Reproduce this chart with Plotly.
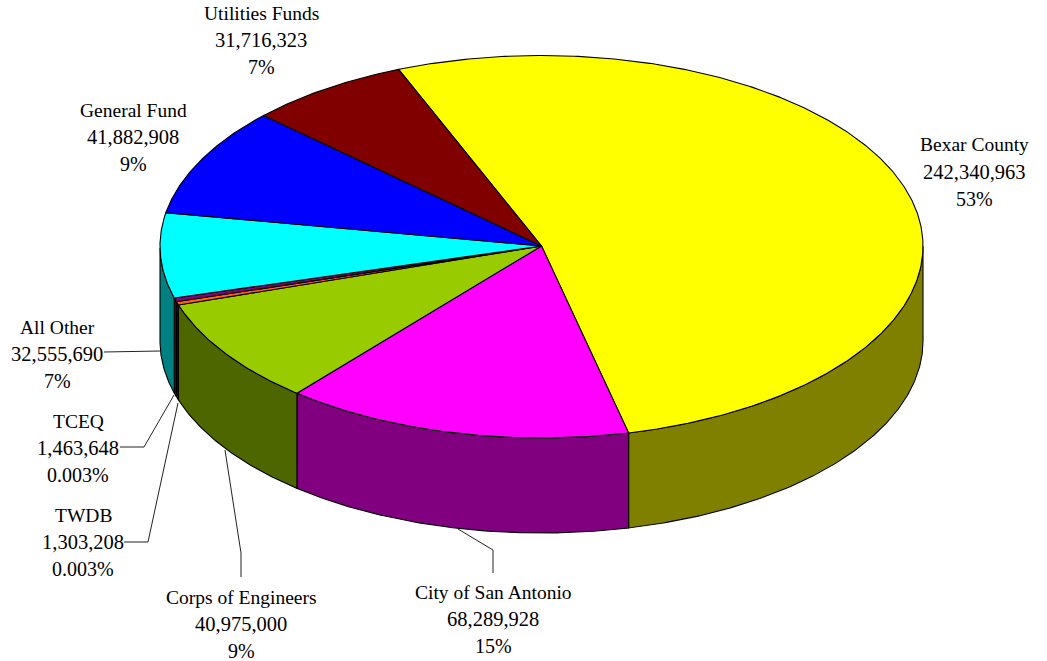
import math
import plotly.graph_objects as go

names = ["Bexar County", "City of San Antonio", "Corps of Engineers", "TWDB", "TCEQ", "All Other", "General Fund", "Utilities Funds"]
values = [242340963, 68289928, 40975000, 1303208, 1463648, 32555690, 41882908, 31716323]
value_labels = ["242,340,963", "68,289,928", "40,975,000", "1,303,208", "1,463,648", "32,555,690", "41,882,908", "31,716,323"]
pct_labels = ["53%", "15%", "9%", "0.003%", "0.003%", "7%", "9%", "7%"]
top_colors = ["#FFFF00", "#FF00FF", "#99CC00", "#FF6600", "#800080", "#00FFFF", "#0000FF", "#800000"]
side_colors = ["#808000", "#800080", "#4D6600", "#1A0A00", "#400040", "#008080", "#000080", "#400000"]

CX, CY, RX, RY_BACK, RY_FRONT, DEPTH, START, WARP = 541.5, 246, 381.5, 190.5, 192, 95, -22.0, 0.95
LABEL_POS = [(974.5, 144.5), (493, 592), (241, 597), (83, 515), (78, 421), (57, 327), (133, 110), (261, 13)]
LINE_GAP = 27
LEADERS = [
    [(493, 573), (493, 550), (458, 529)],
    [(241, 577), (241, 553), (225, 450)],
    [(124, 542), (148, 542), (178, 403)],
    [(120, 447), (144, 447), (174, 395)],
    [(104, 352), (160, 351)],
]
LINE_FONT_SIZES = [19.5, 20.5, 20]


def rim(a0, a1, drop=0.0):
    n = max(2, int(abs(a1 - a0) / 0.5) + 2)
    xs, ys = [], []
    for i in range(n):
        a = a0 + (a1 - a0) * i / (n - 1)
        # slight foreshortening of the near half, as in the perspective view
        d = math.radians(a - WARP * max(0.0, math.cos(math.radians(a - 215))))
        c = math.cos(d)
        xs.append(CX + RX * math.sin(d))
        ys.append(CY - (RY_BACK if c > 0 else RY_FRONT) * c + drop)
    return xs, ys


total = sum(values)
edges = [START]
for v in values:
    edges.append(edges[-1] + v / total * 360)

fig = go.Figure()
outline = dict(color="black", width=1.1)

# visible outer wall of each slice
for a0, a1, col in zip(edges[:-1], edges[1:], side_colors):
    lo, hi = max(a0, 90), min(a1, 270)
    if hi <= lo:
        continue
    xt, yt = rim(lo, hi)
    xb, yb = rim(lo, hi, DEPTH)
    fig.add_trace(go.Scatter(x=xt + xb[::-1] + xt[:1], y=yt + yb[::-1] + yt[:1], mode="lines",
                             fill="toself", fillcolor=col, line=outline, hoverinfo="skip", showlegend=False))

# top face of each slice
for a0, a1, col, nm in zip(edges[:-1], edges[1:], top_colors, names):
    xr, yr = rim(a0, a1)
    fig.add_trace(go.Scatter(x=[CX] + xr + [CX], y=[CY] + yr + [CY], mode="lines", name=nm,
                             fill="toself", fillcolor=col, line=outline, hoverinfo="name", showlegend=False))

for path in LEADERS:
    fig.add_trace(go.Scatter(x=[p[0] for p in path], y=[p[1] for p in path], mode="lines",
                             line=dict(color="#222222", width=1), hoverinfo="skip", showlegend=False))

for nm, val, pct, (lx, ly) in zip(names, value_labels, pct_labels, LABEL_POS):
    for i, t in enumerate([nm, val, pct]):
        fig.add_annotation(x=lx, y=ly + i * LINE_GAP, text=t, showarrow=False, xanchor="center", yanchor="middle",
                           font=dict(family="Liberation Serif", size=LINE_FONT_SIZES[i], color="black"))

fig.update_layout(width=1047, height=661, margin=dict(l=0, r=0, t=0, b=0), paper_bgcolor="white", plot_bgcolor="white",
                  xaxis=dict(range=[0, 1047], visible=False, fixedrange=True),
                  yaxis=dict(range=[661, 0], visible=False, fixedrange=True))
fig.write_html("out.html", config=dict(displayModeBar=False),
               post_script="document.body.style.margin='0';document.documentElement.style.overflow='hidden';")
